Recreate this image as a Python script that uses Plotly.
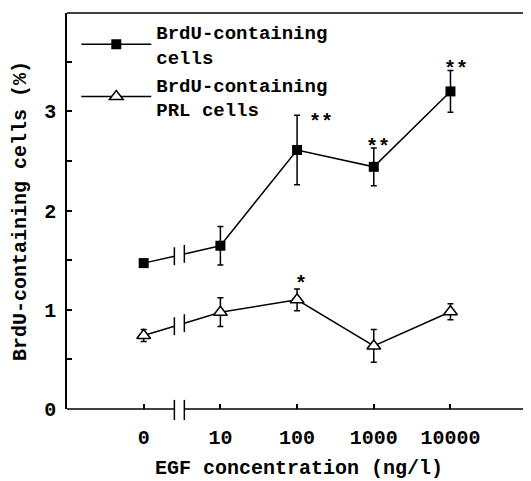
import numpy as np
import plotly.graph_objects as go

# ---- data ----
conc_labels = ["0", "10", "100", "1000", "10000"]
cells_mean = [1.47, 1.645, 2.61, 2.44, 3.20]
cells_err = [0.03, 0.195, 0.35, 0.19, 0.21]
prl_mean = [0.74, 0.975, 1.10, 0.635, 0.98]
prl_err = [0.06, 0.145, 0.11, 0.165, 0.08]
cells_sig = ["", "", "**", "**", "**"]
prl_sig = ["", "", "*", "", ""]
y_ticks = [0, 1, 2, 3]
x_title = "EGF concentration (ng/l)"
y_title = "BrdU-containing cells (%)"

# ---- style ----
FONT = dict(family="Liberation Mono, Courier New, monospace", size=20, color="black", weight="bold")
LEG_FONT = dict(FONT, size=19)
LW = 1.5
XMIN, XMAX = -1.0, 5.05
YMIN, YMAX = 0.0, 3.99
BRK1, BRK2 = 0.40, 0.53     # axis-break position (category units)
BRK_H = 0.09                # half height of break ticks on series lines
PLOT_H = 396                # plot-area height in px
cells_sig_shift = [(0, 0), (0, 0), (24, -7), (4, 0), (6, 1)]
prl_sig_shift = [(0, 0), (0, 0), (4, 4), (0, 0), (0, 0)]

xpos = np.arange(len(conc_labels), dtype=float)

fig = go.Figure()


def add_series(mean, err, name, marker):
    mean = np.asarray(mean)
    yb1 = np.interp(BRK1, xpos, mean)
    yb2 = np.interp(BRK2, xpos, mean)
    fig.add_trace(go.Scatter(x=[xpos[0], BRK1], y=[mean[0], yb1], mode="lines",
                             line=dict(color="black", width=LW), showlegend=False, hoverinfo="skip"))
    fig.add_trace(go.Scatter(x=[BRK2, xpos[1]], y=[yb2, mean[1]], mode="lines",
                             line=dict(color="black", width=LW), showlegend=False, hoverinfo="skip"))
    for xb, yb in ((BRK1, yb1), (BRK2, yb2)):
        fig.add_trace(go.Scatter(x=[xb, xb], y=[yb - BRK_H, yb + BRK_H], mode="lines",
                                 line=dict(color="black", width=LW), showlegend=False, hoverinfo="skip"))
    fig.add_trace(go.Scatter(x=xpos[:1], y=mean[:1], mode="markers", marker=marker,
                             error_y=dict(type="data", array=err[:1], color="black", thickness=LW, width=3),
                             showlegend=False))
    fig.add_trace(go.Scatter(x=xpos[1:], y=mean[1:], mode="lines+markers", name=name,
                             line=dict(color="black", width=LW), marker=marker,
                             error_y=dict(type="data", array=err[1:], color="black", thickness=LW, width=3)))


add_series(cells_mean, cells_err, "BrdU-containing<br>cells",
           dict(symbol="square", size=10, color="black", line=dict(color="black", width=0)))
add_series(prl_mean, prl_err, "BrdU-containing<br>PRL cells",
           dict(symbol="triangle-up", size=12, color="white", line=dict(color="black", width=LW)))

for mean, err, sig, shifts in ((cells_mean, cells_err, cells_sig, cells_sig_shift),
                               (prl_mean, prl_err, prl_sig, prl_sig_shift)):
    for i, s in enumerate(sig):
        if s:
            fig.add_annotation(x=xpos[i], y=mean[i] + err[i], text=s, showarrow=False,
                               xanchor="center", yanchor="middle",
                               xshift=shifts[i][0], yshift=shifts[i][1],
                               font=dict(FONT, size=20))

# x-axis title
fig.add_annotation(xref="paper", yref="paper", x=0.5, y=-59 / PLOT_H, text=x_title,
                   showarrow=False, xanchor="center", yanchor="middle", font=FONT)


def px(x):
    return (x - XMIN) / (XMAX - XMIN)

shapes = [
    dict(type="line", xref="paper", yref="paper", x0=0, x1=px(BRK1), y0=0, y1=0,
         line=dict(color="black", width=LW)),
    dict(type="line", xref="paper", yref="paper", x0=px(BRK2), x1=1, y0=0, y1=0,
         line=dict(color="black", width=LW)),
    dict(type="line", xref="paper", yref="paper", x0=0, x1=1, y0=1, y1=1,
         line=dict(color="black", width=LW)),
    dict(type="line", xref="paper", yref="paper", x0=px(BRK1), x1=px(BRK1), y0=-0.028, y1=0.023,
         line=dict(color="black", width=LW)),
    dict(type="line", xref="paper", yref="paper", x0=px(BRK2), x1=px(BRK2), y0=-0.028, y1=0.023,
         line=dict(color="black", width=LW)),
]

# page body has an 8px default margin, so the figure is sized/offset to compensate
fig.update_layout(
    width=523, height=473,
    margin=dict(l=59, r=0, t=5, b=72, autoexpand=False),
    paper_bgcolor="white", plot_bgcolor="white",
    font=FONT,
    shapes=shapes,
    showlegend=True,
    legend=dict(x=0.02, y=1.0, xanchor="left", yanchor="top", bgcolor="rgba(0,0,0,0)",
                font=LEG_FONT, itemwidth=70, tracegroupgap=0),
    xaxis=dict(range=[XMIN, XMAX], tickmode="array", tickvals=xpos, ticktext=conc_labels,
               showline=False, showgrid=False, zeroline=False, automargin=False,
               ticks="inside", ticklen=5, tickwidth=LW, tickcolor="black",
               ticklabelstandoff=14),
    yaxis=dict(range=[YMIN, YMAX], tickmode="array", tickvals=y_ticks,
               showline=True, linecolor="black", linewidth=LW,
               showgrid=False, zeroline=False, automargin=False,
               ticks="inside", ticklen=5, tickwidth=LW, tickcolor="black",
               minor=dict(ticks="inside", dtick=0.5, tick0=0, ticklen=5, tickwidth=LW, tickcolor="black"),
               ticklabelstandoff=5,
               title=dict(text=y_title, font=FONT, standoff=12)),
)

fig.write_html("out.html")
